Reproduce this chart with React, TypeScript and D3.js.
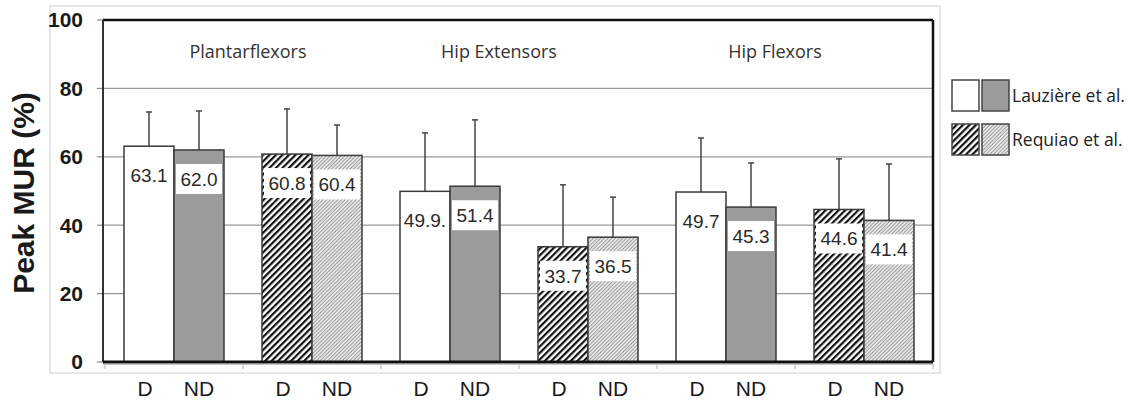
import React from "react";
import * as d3 from "d3";

const muscles = ["Plantarflexors", "Hip Extensors", "Hip Flexors"];
const studies = ["Lauzière et al.", "Requiao et al."];
const sides = ["D", "ND"];
// values ordered muscle by muscle: D, ND
const lauziereMeans = [63.1, 62.0, 49.9, 51.4, 49.7, 45.3];
const lauziereSD = [10.0, 11.4, 17.1, 19.4, 15.8, 12.9];
const lauziereLabels = ["63.1", "62.0", "49.9.", "51.4", "49.7", "45.3"];
const requiaoMeans = [60.8, 60.4, 33.7, 36.5, 44.6, 41.4];
const requiaoSD = [13.2, 8.9, 18.1, 11.7, 14.8, 16.5];
const requiaoLabels = ["60.8", "60.4", "33.7", "36.5", "44.6", "41.4"];
const yTicks = [0, 20, 40, 60, 80, 100];
const yTitle = "Peak MUR (%)";

const W = 1138;
const H = 405;
const plot = { left: 103, right: 933, top: 20, bottom: 362 };

const fills: Record<string, string> = {
  "Lauzière et al.|D": "#ffffff",
  "Lauzière et al.|ND": "#9b9b9b",
  "Requiao et al.|D": "url(#hatchDark)",
  "Requiao et al.|ND": "url(#hatchLight)",
};

export default function App() {
  const groups: { muscle: string; study: string }[] = [];
  muscles.forEach((m) => studies.forEach((s) => groups.push({ muscle: m, study: s })));
  const gKey = (g: { muscle: string; study: string }) => g.muscle + "|" + g.study;

  const x0 = d3.scaleBand<string>().domain(groups.map(gKey)).range([105, plot.right]).paddingInner(0).paddingOuter(0);
  const x1 = d3.scaleBand<string>().domain(sides).range([0, x0.bandwidth()]).paddingInner(0).paddingOuter(0.38);
  const y = d3.scaleLinear().domain([0, 100]).range([plot.bottom, plot.top]);

  type Bar = { x: number; w: number; v: number; sd: number; label: string; fill: string; side: string };
  const bars: Bar[] = [];
  groups.forEach((g) => {
    const mi = muscles.indexOf(g.muscle);
    const isL = g.study === studies[0];
    sides.forEach((s, si) => {
      const idx = mi * 2 + si;
      bars.push({
        x: (x0(gKey(g)) ?? 0) + (x1(s) ?? 0),
        w: x1.bandwidth(),
        v: isL ? lauziereMeans[idx] : requiaoMeans[idx],
        sd: isL ? lauziereSD[idx] : requiaoSD[idx],
        label: isL ? lauziereLabels[idx] : requiaoLabels[idx],
        fill: fills[g.study + "|" + s],
        side: s,
      });
    });
  });

  const boundaries = groups.map((g) => x0(gKey(g)) ?? 0).concat([plot.right]);

  return (
    <svg width={W} height={H} style={{ position: "absolute", left: 0, top: 0, background: "#fff" }}>
      <defs>
        <pattern id="hatchDark" patternUnits="userSpaceOnUse" width="4.6" height="4.6" patternTransform="rotate(45)">
          <rect width="4.6" height="4.6" fill="#fff" />
          <rect width="2.2" height="4.6" fill="#111" />
        </pattern>
        <pattern id="hatchLight" patternUnits="userSpaceOnUse" width="2.6" height="2.6" patternTransform="rotate(45)">
          <rect width="2.6" height="2.6" fill="#e6e6e6" />
          <rect width="0.9" height="2.6" fill="#9a9a9a" />
        </pattern>
      </defs>
      {/* outer frame */}
      <rect x={50} y={6} width={890} height={367} fill="#fff" stroke="#d0d0d0" strokeWidth={1} />
      {/* gridlines */}
      {yTicks.filter((t) => t > 0 && t < 100).map((t) => (
        <line key={t} x1={plot.left} x2={plot.right} y1={y(t)} y2={y(t)} stroke="#9a9a9a" strokeWidth={1.2} />
      ))}
      {/* y ticks */}
      {yTicks.map((t) => (
        <g key={"yt" + t}>
          <line x1={97} x2={plot.left} y1={y(t)} y2={y(t)} stroke="#8a8a8a" strokeWidth={1.2} />
          <text x={83} y={y(t)} dy="0.35em" textAnchor="end" fontFamily="Liberation Sans, Arial, sans-serif" fontWeight="bold" fontSize={21} fill="#1a1a1a">
            {t}
          </text>
        </g>
      ))}
      {/* bars */}
      {bars.map((b, i) => (
        <g key={"b" + i}>
          <line x1={b.x + b.w / 2} x2={b.x + b.w / 2} y1={y(b.v)} y2={y(b.v + b.sd)} stroke="#444" strokeWidth={1.5} />
          <line x1={b.x + b.w / 2 - 3} x2={b.x + b.w / 2 + 3} y1={y(b.v + b.sd)} y2={y(b.v + b.sd)} stroke="#444" strokeWidth={1.5} />
          <rect x={b.x} y={y(b.v)} width={b.w} height={y(0) - y(b.v)} fill={b.fill} stroke="#3a3a3a" strokeWidth={1.5} />
        </g>
      ))}
      {/* value labels */}
      {bars.map((b, i) => {
        const cy = y(b.v) + 29;
        return (
          <g key={"l" + i}>
            <rect x={b.x + 2} y={cy - 15} width={b.w - 4} height={30} fill="#fff" />
            <text x={b.x + b.w / 2} y={cy} dy="0.36em" textAnchor="middle" fontFamily="Liberation Sans, Arial, sans-serif" fontSize={19} fill="#2a2a2a">
              {b.label}
            </text>
          </g>
        );
      })}
      {/* plot borders */}
      <line x1={plot.left} x2={plot.right} y1={plot.top} y2={plot.top} stroke="#111" strokeWidth={2.5} />
      <line x1={plot.right} x2={plot.right} y1={plot.top} y2={plot.bottom} stroke="#111" strokeWidth={2.5} />
      <line x1={plot.left} x2={plot.left} y1={plot.top} y2={plot.bottom} stroke="#333" strokeWidth={2} />
      {/* x axis */}
      <line x1={plot.left} x2={plot.right} y1={364.5} y2={364.5} stroke="#c8c8c8" strokeWidth={1} />
      {boundaries.map((bx, i) => (
        <line key={"xt" + i} x1={bx} x2={bx} y1={364} y2={369} stroke="#b0b0b0" strokeWidth={1} />
      ))}
      <line x1={plot.left} x2={plot.right} y1={plot.bottom} y2={plot.bottom} stroke="#111" strokeWidth={3} />
      {bars.map((b, i) => (
        <text key={"xl" + i} x={b.x + b.w / 2 - (b.side === "D" ? 4 : 0)} y={396} textAnchor="middle" fontFamily="Liberation Sans, Arial, sans-serif" fontSize={21} fill="#1a1a1a">
          {b.side}
        </text>
      ))}
      {/* muscle titles */}
      {muscles.map((m, i) => {
        const cx = boundaries[i * 2 + 1];
        return (
          <text key={m} x={cx + (i === 0 ? 5 : -20)} y={52} dy="0.35em" textAnchor="middle" fontFamily="Open Sans, sans-serif" fontSize={18} fill="#333">
            {m}
          </text>
        );
      })}
      {/* y title */}
      <text transform={`translate(34, ${(plot.top + plot.bottom) / 2 + 2}) rotate(-90)`} textAnchor="middle" fontFamily="Liberation Sans, Arial, sans-serif" fontWeight="bold" fontSize={30} fill="#1a1a1a">
        {yTitle}
      </text>
      {/* legend */}
      {studies.map((s, i) => {
        const ly = 80 + i * 44;
        return (
          <g key={s}>
            <rect x={952} y={ly} width={27} height={31} fill={fills[s + "|D"]} stroke="#444" strokeWidth={1.5} />
            <rect x={982} y={ly} width={27} height={31} fill={fills[s + "|ND"]} stroke="#444" strokeWidth={1.5} />
            <text x={1012} y={ly + 16} dy="0.35em" fontFamily="Open Sans, sans-serif" fontSize={17.5} fill="#222">
              {s}
            </text>
          </g>
        );
      })}
    </svg>
  );
}
